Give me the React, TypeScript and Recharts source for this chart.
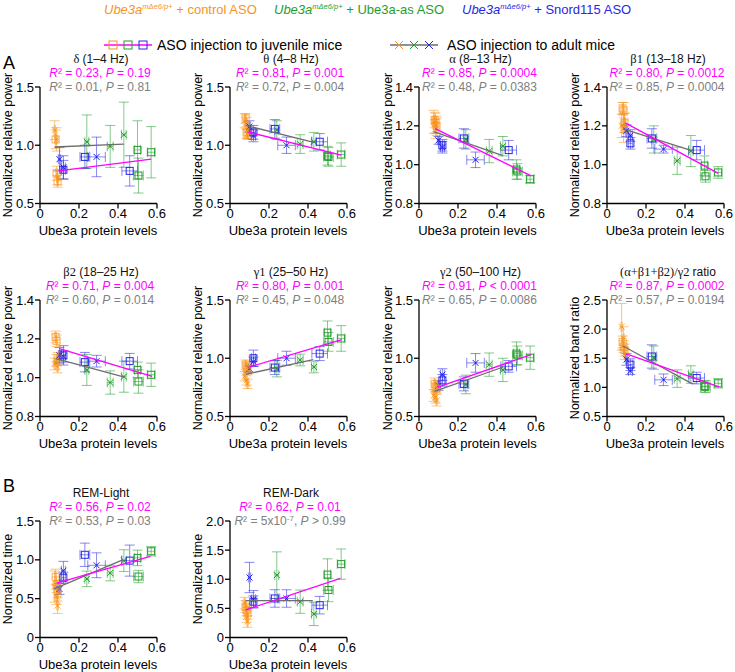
import React from 'react'
import { ScatterChart, Scatter, XAxis, YAxis, ErrorBar } from 'recharts'

const ORANGE = '#f7941d'
const GREEN = '#1f9e2a'
const BLUE = '#2626e8'
const MAGENTA = '#ff00ff'
const GRAY = '#808080'
const LINE_GRAY = '#6e6e6e'
const FONT = '"Liberation Sans", Arial, sans-serif'
const SERIF = '"Liberation Serif", "DejaVu Serif", serif'

// Ube3a protein levels per group (same in every panel)
// order: 3 x control ASO, 3 x Snord115 ASO, 3 x Ube3a-as ASO
const juvX = [0.08, 0.085, 0.09, 0.12, 0.23, 0.46, 0.5, 0.505, 0.57]
const juvXErr = [0.004, 0.004, 0.004, 0.01, 0.025, 0.04, 0.015, 0.025, 0.02]
const adX = [0.075, 0.085, 0.09, 0.1, 0.12, 0.29, 0.24, 0.36, 0.43]
const adXErr = [0.004, 0.004, 0.004, 0.006, 0.01, 0.045, 0.01, 0.015, 0.012]

const xTicks = [0, 0.2, 0.4, 0.6]

// delta
const deltaJuvY = [1.05, 0.76, 0.69, 0.79, 0.9, 0.78, 0.96, 0.74, 0.94]
const deltaJuvErr = [0.08, 0.06, 0.05, 0.08, 0.1, 0.13, 0.25, 0.15, 0.22]
const deltaAdY = [1.13, 1.05, 0.72, 0.88, 0.81, 0.9, 1.03, 0.99, 1.09]
const deltaAdErr = [0.08, 0.1, 0.06, 0.1, 0.1, 0.17, 0.23, 0.18, 0.28]
const deltaFitJuv = [0.095, 0.78, 0.57, 0.88]
const deltaFitAd = [0.075, 0.985, 0.43, 1.01]

// theta
const thetaJuvY = [1.23, 1.11, 1.09, 1.11, 1.14, 1.03, 0.91, 0.9, 0.92]
const thetaJuvErr = [0.04, 0.05, 0.04, 0.06, 0.08, 0.07, 0.08, 0.08, 0.1]
const thetaAdY = [1.21, 1.19, 1.1, 1.16, 1.08, 1.0, 1.13, 1.01, 1.03]
const thetaAdErr = [0.06, 0.05, 0.04, 0.05, 0.05, 0.07, 0.08, 0.08, 0.08]
const thetaFitJuv = [0.09, 1.115, 0.57, 0.915]
const thetaFitAd = [0.08, 1.17, 0.43, 1.025]

// alpha
const alphaJuvY = [1.23, 1.215, 1.2, 1.1, 1.135, 1.075, 0.975, 0.965, 0.925]
const alphaJuvErr = [0.04, 0.05, 0.04, 0.03, 0.05, 0.05, 0.05, 0.04, 0.02]
const alphaAdY = [1.22, 1.185, 1.2, 1.125, 1.09, 1.025, 1.13, 1.07, 1.095]
const alphaAdErr = [0.06, 0.05, 0.05, 0.02, 0.03, 0.04, 0.05, 0.06, 0.05]
const alphaFitJuv = [0.083, 1.186, 0.57, 0.945]
const alphaFitAd = [0.075, 1.17, 0.43, 1.047]

// beta1
const beta1JuvY = [1.29, 1.28, 1.215, 1.11, 1.135, 1.075, 0.995, 0.94, 0.96]
const beta1JuvErr = [0.03, 0.04, 0.05, 0.03, 0.05, 0.05, 0.05, 0.03, 0.03]
const beta1AdY = [1.2, 1.185, 1.215, 1.175, 1.15, 1.08, 1.13, 1.02, 1.07]
const beta1AdErr = [0.06, 0.07, 0.05, 0.03, 0.03, 0.02, 0.07, 0.07, 0.08]
const beta1FitJuv = [0.094, 1.215, 0.57, 0.955]
const beta1FitAd = [0.083, 1.184, 0.43, 1.074]

// beta2
const beta2JuvY = [1.21, 1.19, 1.1, 1.115, 1.08, 1.085, 1.04, 0.98, 1.015]
const beta2JuvErr = [0.03, 0.03, 0.03, 0.05, 0.05, 0.04, 0.04, 0.06, 0.06]
const beta2AdY = [1.07, 1.09, 1.055, 1.115, 1.11, 1.085, 1.04, 0.975, 1.005]
const beta2AdErr = [0.03, 0.03, 0.03, 0.04, 0.03, 0.03, 0.08, 0.06, 0.08]
const beta2FitJuv = [0.099, 1.15, 0.575, 1.007]
const beta2FitAd = [0.081, 1.098, 0.433, 1.003]

// gamma1
const gamma1JuvY = [0.945, 0.925, 0.9, 1.0, 0.92, 1.04, 1.22, 1.14, 1.17]
const gamma1JuvErr = [0.04, 0.04, 0.04, 0.07, 0.06, 0.06, 0.1, 0.08, 0.11]
const gamma1AdY = [0.845, 0.81, 0.78, 0.91, 0.97, 1.0, 0.91, 0.985, 0.925]
const gamma1AdErr = [0.04, 0.04, 0.04, 0.03, 0.04, 0.06, 0.07, 0.05, 0.05]
const gamma1FitJuv = [0.099, 0.925, 0.574, 1.16]
const gamma1FitAd = [0.081, 0.862, 0.427, 0.989]

// gamma2
const gamma2JuvY = [0.78, 0.75, 0.74, 0.81, 0.78, 0.93, 1.04, 1.025, 1.005]
const gamma2JuvErr = [0.05, 0.04, 0.04, 0.05, 0.06, 0.05, 0.1, 0.08, 0.1]
const gamma2AdY = [0.68, 0.665, 0.64, 0.765, 0.86, 0.96, 0.775, 0.945, 0.9]
const gamma2AdErr = [0.05, 0.05, 0.05, 0.04, 0.05, 0.08, 0.08, 0.1, 0.1]
const gamma2FitJuv = [0.097, 0.753, 0.576, 1.032]
const gamma2FitAd = [0.08, 0.716, 0.432, 0.925]

// (a+b1+b2)/g2 ratio
const ratioJuvY = [1.78, 1.7, 1.64, 1.39, 1.53, 1.16, 1.02, 1.01, 1.07]
const ratioJuvErr = [0.1, 0.1, 0.1, 0.1, 0.2, 0.1, 0.1, 0.1, 0.08]
const ratioAdY = [2.04, 1.84, 1.58, 1.48, 1.28, 1.13, 1.51, 1.15, 1.22]
const ratioAdErr = [0.4, 0.2, 0.1, 0.1, 0.06, 0.1, 0.2, 0.15, 0.15]
const ratioFitJuv = [0.096, 1.58, 0.574, 1.01]
const ratioFitAd = [0.082, 1.71, 0.438, 1.06]

// REM-Light
const lightJuvY = [0.78, 0.68, 0.57, 0.77, 1.065, 0.99, 1.025, 0.785, 1.11]
const lightJuvErr = [0.1, 0.1, 0.1, 0.07, 0.15, 0.2, 0.1, 0.08, 0.06]
const lightAdY = [0.655, 0.525, 0.41, 0.625, 0.86, 0.93, 0.755, 0.83, 0.99]
const lightAdErr = [0.2, 0.1, 0.1, 0.07, 0.12, 0.16, 0.1, 0.1, 0.14]
const lightFitJuv = [0.085, 0.7, 0.566, 1.043]
const lightFitAd = [0.072, 0.625, 0.424, 1.0]

// REM-Dark
const darkJuvY = [0.53, 0.47, 0.415, 0.615, 0.67, 0.555, 1.08, 0.815, 1.26]
const darkJuvErr = [0.1, 0.1, 0.1, 0.1, 0.15, 0.15, 0.27, 0.2, 0.26]
const darkAdY = [0.59, 0.36, 0.275, 1.03, 0.655, 0.67, 1.07, 0.615, 0.405]
const darkAdErr = [0.1, 0.1, 0.1, 0.26, 0.15, 0.15, 0.4, 0.2, 0.2]
const darkFitJuv = [0.08, 0.473, 0.566, 1.014]
const darkFitAd = [0.08, 0.632, 0.424, 0.632]

// layout (pixel position of each plot area)
const COL_X = [39.5, 229.5, 419, 606.5]
const ROW_TOP = [87, 300, 521]
const PLOT_W = 117
const PLOT_H = 116.5
const Y_AXIS_W = 30
const M_TOP = 8
const M_RIGHT = 14
const X_AXIS_H = 24

const stat = (r: string, p: string, op = '=') => (
  <>
    <i>R</i>² = {r}, <i>P</i> {op} {p}
  </>
)

const greek = (g: string, rest: string) => (
  <>
    <span style={{ fontFamily: SERIF, fontSize: 12.5 }}>{g}</span>
    {rest}
  </>
)

type Panel = {
  title: React.ReactNode
  juvStat: React.ReactNode
  adStat: React.ReactNode
  yLabel: string
  domain: [number, number]
  ticks: number[]
  juvY: number[]
  juvErr: number[]
  adY: number[]
  adErr: number[]
  fitJuv: number[]
  fitAd: number[]
  col: number
  row: number
}

const POWER = 'Normalized relative power'

const PANELS: Panel[] = [
  { title: greek('δ', ' (1–4 Hz)'), juvStat: stat('0.23', '0.19'), adStat: stat('0.01', '0.81'), yLabel: POWER, domain: [0.5, 1.5], ticks: [0.5, 1, 1.5], juvY: deltaJuvY, juvErr: deltaJuvErr, adY: deltaAdY, adErr: deltaAdErr, fitJuv: deltaFitJuv, fitAd: deltaFitAd, col: 0, row: 0 },
  { title: greek('θ', ' (4–8 Hz)'), juvStat: stat('0.81', '0.001'), adStat: stat('0.72', '0.004'), yLabel: POWER, domain: [0.5, 1.5], ticks: [0.5, 1, 1.5], juvY: thetaJuvY, juvErr: thetaJuvErr, adY: thetaAdY, adErr: thetaAdErr, fitJuv: thetaFitJuv, fitAd: thetaFitAd, col: 1, row: 0 },
  { title: greek('α', ' (8–13 Hz)'), juvStat: stat('0.85', '0.0004'), adStat: stat('0.48', '0.0383'), yLabel: POWER, domain: [0.8, 1.4], ticks: [0.8, 1, 1.2, 1.4], juvY: alphaJuvY, juvErr: alphaJuvErr, adY: alphaAdY, adErr: alphaAdErr, fitJuv: alphaFitJuv, fitAd: alphaFitAd, col: 2, row: 0 },
  { title: greek('β1', ' (13–18 Hz)'), juvStat: stat('0.80', '0.0012'), adStat: stat('0.85', '0.0004'), yLabel: POWER, domain: [0.8, 1.4], ticks: [0.8, 1, 1.2, 1.4], juvY: beta1JuvY, juvErr: beta1JuvErr, adY: beta1AdY, adErr: beta1AdErr, fitJuv: beta1FitJuv, fitAd: beta1FitAd, col: 3, row: 0 },
  { title: greek('β2', ' (18–25 Hz)'), juvStat: stat('0.71', '0.004'), adStat: stat('0.60', '0.014'), yLabel: POWER, domain: [0.8, 1.4], ticks: [0.8, 1, 1.2, 1.4], juvY: beta2JuvY, juvErr: beta2JuvErr, adY: beta2AdY, adErr: beta2AdErr, fitJuv: beta2FitJuv, fitAd: beta2FitAd, col: 0, row: 1 },
  { title: greek('γ1', ' (25–50 Hz)'), juvStat: stat('0.80', '0.001'), adStat: stat('0.45', '0.048'), yLabel: POWER, domain: [0.5, 1.5], ticks: [0.5, 1, 1.5], juvY: gamma1JuvY, juvErr: gamma1JuvErr, adY: gamma1AdY, adErr: gamma1AdErr, fitJuv: gamma1FitJuv, fitAd: gamma1FitAd, col: 1, row: 1 },
  { title: greek('γ2', ' (50–100 Hz)'), juvStat: stat('0.91', '0.0001', '<'), adStat: stat('0.65', '0.0086'), yLabel: POWER, domain: [0.5, 1.5], ticks: [0.5, 1, 1.5], juvY: gamma2JuvY, juvErr: gamma2JuvErr, adY: gamma2AdY, adErr: gamma2AdErr, fitJuv: gamma2FitJuv, fitAd: gamma2FitAd, col: 2, row: 1 },
  {
    title: (<span style={{ fontFamily: SERIF, fontSize: 12.5 }}>(α+β1+β2)/γ2 <span style={{ fontFamily: FONT, fontSize: 12 }}>ratio</span></span>),
    juvStat: stat('0.87', '0.0002'), adStat: stat('0.57', '0.0194'), yLabel: 'Normalized band ratio', domain: [0.5, 2.5], ticks: [0.5, 1, 1.5, 2, 2.5], juvY: ratioJuvY, juvErr: ratioJuvErr, adY: ratioAdY, adErr: ratioAdErr, fitJuv: ratioFitJuv, fitAd: ratioFitAd, col: 3, row: 1,
  },
  { title: 'REM-Light', juvStat: stat('0.56', '0.02'), adStat: stat('0.53', '0.03'), yLabel: 'Normalized time', domain: [0, 1.5], ticks: [0, 0.5, 1, 1.5], juvY: lightJuvY, juvErr: lightJuvErr, adY: lightAdY, adErr: lightAdErr, fitJuv: lightFitJuv, fitAd: lightFitAd, col: 0, row: 2 },
  {
    title: 'REM-Dark', juvStat: stat('0.62', '0.01'),
    adStat: (<><i>R</i>² = 5x10<span style={{ fontSize: 8, position: 'relative', top: -4 }}>-7</span>, <i>P</i> &gt; 0.99</>),
    yLabel: 'Normalized time', domain: [0, 2], ticks: [0, 0.5, 1, 1.5, 2], juvY: darkJuvY, juvErr: darkJuvErr, adY: darkAdY, adErr: darkAdErr, fitJuv: darkFitJuv, fitAd: darkFitAd, col: 1, row: 2,
  },
]

const GROUPS = [
  { from: 0, color: ORANGE, opacity: 0.75 },
  { from: 3, color: BLUE, opacity: 1 },
  { from: 6, color: GREEN, opacity: 1 },
]

const fmt = (v: number) => (v === 0 ? '0' : v.toFixed(1))

const squareShape = (color: string, opacity: number) => (props: any) => {
  const { cx, cy } = props
  if (cx == null || cy == null) return <g />
  return <rect x={cx - 3.5} y={cy - 3.5} width={7} height={7} fill="none" stroke={color} strokeWidth={1} opacity={opacity} />
}

const crossShape = (color: string, opacity: number) => (props: any) => {
  const { cx, cy } = props
  if (cx == null || cy == null) return <g />
  return (
    <g stroke={color} strokeWidth={1} opacity={opacity}>
      <line x1={cx - 3} y1={cy - 3} x2={cx + 3} y2={cy + 3} />
      <line x1={cx - 3} y1={cy + 3} x2={cx + 3} y2={cy - 3} />
      <circle cx={cx} cy={cy} r={0.8} fill={color} stroke="none" />
    </g>
  )
}

const noShape = () => <g />

function points(xs: number[], xe: number[], ys: number[], ye: number[], from: number) {
  return [0, 1, 2].map((i) => ({ x: xs[from + i], y: ys[from + i], ex: xe[from + i], ey: ye[from + i] }))
}

const textBox = (left: number, top: number, extra: React.CSSProperties = {}): React.CSSProperties => ({
  position: 'absolute',
  left,
  top,
  transform: 'translate(-50%, -50%)',
  whiteSpace: 'nowrap',
  lineHeight: 1,
  ...extra,
})

function PanelChart({ p }: { p: Panel }) {
  const axisX = COL_X[p.col]
  const top = ROW_TOP[p.row]
  const centerX = axisX + PLOT_W / 2
  const width = Y_AXIS_W + PLOT_W + M_RIGHT
  const height = M_TOP + PLOT_H + X_AXIS_H
  const axisStyle = { stroke: '#000', strokeWidth: 1.3 }

  return (
    <>
      <div style={textBox(centerX + 3, top - 28, { fontSize: 12, color: '#111' })}>{p.title}</div>
      <div style={textBox(centerX + 2, top - 14.2, { fontSize: 12, color: MAGENTA })}>{p.juvStat}</div>
      <div style={textBox(centerX + 2, top - 0.4, { fontSize: 12, color: GRAY, zIndex: 2 })}>{p.adStat}</div>
      <div style={textBox(axisX - 31.5, top + PLOT_H / 2, { fontSize: 12.5, color: '#000', transform: 'translate(-50%, -50%) rotate(-90deg)' })}>
        {p.yLabel}
      </div>
      <div style={textBox(centerX, top + PLOT_H + 26, { fontSize: 13, color: '#000' })}>Ube3a protein levels</div>
      <div style={{ position: 'absolute', left: axisX - Y_AXIS_W, top: top - M_TOP }}>
        <ScatterChart width={width} height={height} margin={{ top: M_TOP, right: M_RIGHT, bottom: 0, left: 0 }}>
          <XAxis
            type="number"
            dataKey="x"
            domain={[0, 0.6]}
            ticks={xTicks}
            interval={0}
            allowDataOverflow
            tickFormatter={fmt}
            axisLine={axisStyle}
            tickLine={axisStyle}
            tickSize={5}
            tickMargin={0}
            height={X_AXIS_H}
            tick={{ fill: '#000', fontSize: 13 }}
          />
          <YAxis
            type="number"
            dataKey="y"
            domain={p.domain}
            ticks={p.ticks}
            interval={0}
            allowDataOverflow
            tickFormatter={fmt}
            axisLine={axisStyle}
            tickLine={axisStyle}
            tickSize={5}
            tickMargin={1}
            width={Y_AXIS_W}
            tick={{ fill: '#000', fontSize: 13 }}
          />
          {GROUPS.map((g) => (
            <Scatter
              key={'ad' + g.from}
              data={points(adX, adXErr, p.adY, p.adErr, g.from)}
              shape={crossShape(g.color, g.opacity)}
              isAnimationActive={false}
            >
              <ErrorBar dataKey="ey" direction="y" width={5} stroke={g.color} strokeOpacity={0.55} strokeWidth={1} isAnimationActive={false} />
              <ErrorBar dataKey="ex" direction="x" width={5} stroke={g.color} strokeOpacity={0.55} strokeWidth={1} isAnimationActive={false} />
            </Scatter>
          ))}
          {GROUPS.map((g) => (
            <Scatter
              key={'juv' + g.from}
              data={points(juvX, juvXErr, p.juvY, p.juvErr, g.from)}
              shape={squareShape(g.color, g.opacity)}
              isAnimationActive={false}
            >
              <ErrorBar dataKey="ey" direction="y" width={5} stroke={g.color} strokeOpacity={0.55} strokeWidth={1} isAnimationActive={false} />
              <ErrorBar dataKey="ex" direction="x" width={5} stroke={g.color} strokeOpacity={0.55} strokeWidth={1} isAnimationActive={false} />
            </Scatter>
          ))}
          <Scatter
            data={[{ x: p.fitAd[0], y: p.fitAd[1] }, { x: p.fitAd[2], y: p.fitAd[3] }]}
            line={{ stroke: LINE_GRAY, strokeWidth: 1.3 }}
            shape={noShape}
            isAnimationActive={false}
          />
          <Scatter
            data={[{ x: p.fitJuv[0], y: p.fitJuv[1] }, { x: p.fitJuv[2], y: p.fitJuv[3] }]}
            line={{ stroke: MAGENTA, strokeWidth: 1.3 }}
            shape={noShape}
            isAnimationActive={false}
          />
        </ScatterChart>
      </div>
    </>
  )
}

function Geno({ color, left, suffix }: { color: string; left: number; suffix: string }) {
  return (
    <div style={{ position: 'absolute', left, top: 3, lineHeight: '13px', color, fontSize: 13, whiteSpace: 'nowrap' }}>
      <i>Ube3a</i>
      <span style={{ fontSize: 7.5, fontStyle: 'italic', position: 'relative', top: -5 }}>mΔe6/p+</span> + {suffix}
    </div>
  )
}

function LegendKey({ kind }: { kind: 'juv' | 'ad' }) {
  const cols = [ORANGE, GREEN, BLUE]
  const stroke = kind === 'juv' ? MAGENTA : LINE_GRAY
  return (
    <svg width={50} height={14} style={{ display: 'block' }}>
      <line x1={1} y1={7} x2={49} y2={7} stroke={stroke} strokeWidth={1.5} />
      {cols.map((c, i) => {
        const cx = 10 + i * 15
        return kind === 'juv' ? (
          <rect key={c} x={cx - 4} y={3} width={8} height={8} fill="none" stroke={c} strokeWidth={1} />
        ) : (
          <g key={c} stroke={c} strokeWidth={1}>
            <line x1={cx - 4} y1={3} x2={cx + 4} y2={11} />
            <line x1={cx - 4} y1={11} x2={cx + 4} y2={3} />
          </g>
        )
      })}
    </svg>
  )
}

export default function App() {
  return (
    <div style={{ position: 'absolute', left: 0, top: 0, width: 735, height: 672, background: '#fff', fontFamily: FONT, overflow: 'hidden' }}>
      <Geno color={ORANGE} left={104} suffix="control ASO" />
      <Geno color={GREEN} left={274} suffix="Ube3a-as ASO" />
      <Geno color={BLUE} left={462} suffix="Snord115 ASO" />

      <div style={{ position: 'absolute', left: 103, top: 38 }}>
        <LegendKey kind="juv" />
      </div>
      <div style={{ position: 'absolute', left: 157, top: 38, lineHeight: '14px', fontSize: 14, whiteSpace: 'nowrap' }}>
        ASO injection to juvenile mice
      </div>
      <div style={{ position: 'absolute', left: 389, top: 38 }}>
        <LegendKey kind="ad" />
      </div>
      <div style={{ position: 'absolute', left: 447, top: 38, lineHeight: '14px', fontSize: 14, whiteSpace: 'nowrap' }}>
        ASO injection to adult mice
      </div>

      <div style={{ position: 'absolute', left: 3, top: 54, lineHeight: '18px', fontSize: 18 }}>A</div>
      <div style={{ position: 'absolute', left: 3, top: 477, lineHeight: '18px', fontSize: 18 }}>B</div>

      {PANELS.map((p, i) => (
        <PanelChart key={i} p={p} />
      ))}
    </div>
  )
}
